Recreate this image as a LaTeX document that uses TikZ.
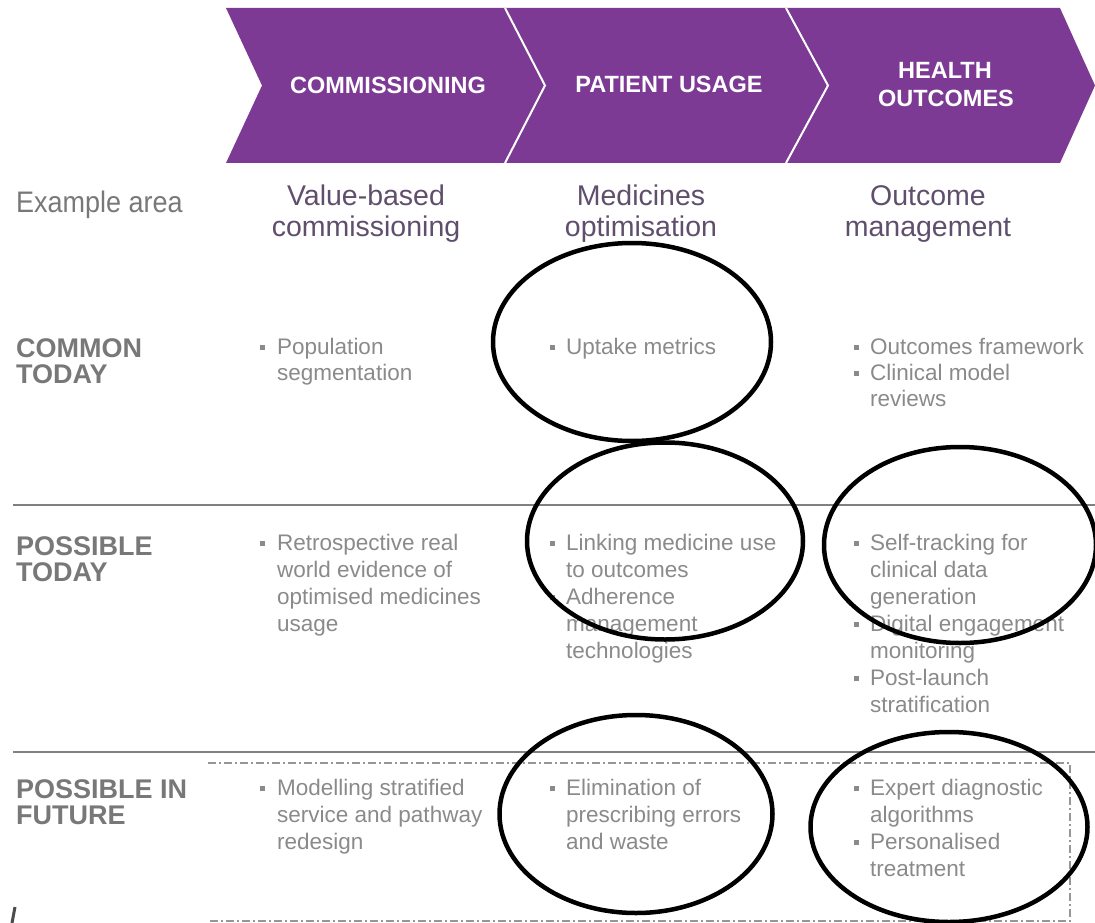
\documentclass[tikz,border=0pt]{standalone}
\usepackage{fontspec}
\usepackage{graphicx}
\setmainfont{Liberation Sans}
\usetikzlibrary{shapes.geometric}
\definecolor{band}{RGB}{124,58,148}
\definecolor{bodygray}{RGB}{138,138,138}
\definecolor{labgray}{RGB}{120,120,120}
\definecolor{headgray}{RGB}{95,78,108}
\definecolor{linegray}{RGB}{128,128,128}
\definecolor{dashgray}{RGB}{150,150,150}
\tikzset{
  body/.style={anchor=base west, inner sep=0pt, font=\fontsize{22.5}{27}\selectfont, text=bodygray},
  dotsq/.style={fill=bodygray, minimum size=5pt, inner sep=0pt},
  lab/.style={anchor=base west, inner sep=0pt, font=\fontsize{27}{27}\selectfont\bfseries, text=labgray},
  colhead/.style={anchor=base, inner sep=0pt, font=\fontsize{28.5}{31}\selectfont, text=headgray},
  chev/.style={anchor=base, inner sep=0pt, font=\fontsize{23.5}{28}\selectfont\bfseries, text=white},
  ring/.style={ellipse, draw=black, line width=4.5pt, inner sep=0pt},
  rowrule/.style={draw=linegray, line width=2pt},
  seprule/.style={draw=white, line width=2pt},
  boxdash/.style={draw=dashgray, line width=1.2pt, dash pattern=on 8pt off 3pt on 2pt off 3pt},
}
\newcommand{\bt}[4]{\node[body] (#1) at (#2,#3) {#4};}
\newcommand{\bd}[3]{\node[dotsq] (#1) at (#2,#3-6.5) {};}
\begin{document}
\begin{tikzpicture}[x=1pt,y=-1pt]
\useasboundingbox (0,0) rectangle (1095,923);
% chevron band
\fill[band] (226,8) -- (1060,8) -- (1095,85.5) -- (1060,163) -- (226,163) -- (262,85.5) -- cycle;
\coordinate (s1a) at (505,8); \coordinate (s1b) at (545,85.5); \coordinate (s1c) at (505,163);
\coordinate (s2a) at (786,8); \coordinate (s2b) at (828,85.5); \coordinate (s2c) at (786,163);
\draw[seprule] (s1a) -- (s1b) -- (s1c);
\draw[seprule] (s2a) -- (s2b) -- (s2c);
\node[chev] (h1) at (388,94) {COMMISSIONING};
\node[chev] (h2) at (669,93) {PATIENT USAGE};
\node[chev] (h3a) at (945,79) {HEALTH};
\node[chev] (h3b) at (946,107) {OUTCOMES};
% example area row
\node[body, font=\fontsize{27}{31}\selectfont, text=labgray] (ex) at (16,212) {\scalebox{1}[1.1]{Example area}};
\node[colhead] (c1a) at (366,205) {Value-based};
\node[colhead] (c1b) at (366,236) {commissioning};
\node[colhead] (c2a) at (641,205) {Medicines};
\node[colhead] (c2b) at (641,236) {optimisation};
\node[colhead] (c3a) at (928,205) {Outcome};
\node[colhead] (c3b) at (928,236) {management};
% row labels
\node[lab] (l1a) at (16,357) {COMMON};
\node[lab] (l1b) at (16,383) {TODAY};
\node[lab] (l2a) at (16,555) {POSSIBLE};
\node[lab] (l2b) at (16,581) {TODAY};
\node[lab] (l3a) at (16,798) {POSSIBLE IN};
\node[lab] (l3b) at (16,824) {FUTURE};
% rules
\coordinate (r1a) at (13,505); \coordinate (r1b) at (1095,505);
\coordinate (r2a) at (13,752); \coordinate (r2b) at (1095,752);
\draw[rowrule] (r1a) -- (r1b);
\draw[rowrule] (r2a) -- (r2b);
% dashed frame (top, right, bottom)
\coordinate (da) at (208,763); \coordinate (db) at (1070,763);
\coordinate (dc) at (1070,921); \coordinate (dd) at (208,921);
\draw[boxdash] (da) -- (db) -- (dc) -- (dd);
% column 1
\bd{d11}{262}{354}\bt{t11a}{277}{354}{Population}\bt{t11b}{277}{380}{segmentation}
\bd{d12}{262}{550}\bt{t12a}{277}{550}{Retrospective real}\bt{t12b}{277}{577}{world evidence of}
\bt{t12c}{277}{604}{optimised medicines}\bt{t12d}{277}{631}{usage}
\bd{d13}{262}{795}\bt{t13a}{277}{795}{Modelling stratified}\bt{t13b}{277}{822}{service and pathway}
\bt{t13c}{277}{849}{redesign}
% column 2
\bd{d21}{552}{354}\bt{t21a}{566}{354}{Uptake metrics}
\bd{d22}{552}{550}\bt{t22a}{566}{550}{Linking medicine use}\bt{t22b}{566}{577}{to outcomes}
\bd{d22x}{552}{604}\bt{t22c}{566}{604}{Adherence}\bt{t22d}{566}{631}{management}
\bt{t22e}{566}{658}{technologies}
\bd{d23}{552}{795}\bt{t23a}{566}{795}{Elimination of}\bt{t23b}{566}{822}{prescribing errors}
\bt{t23c}{566}{849}{and waste}
% column 3
\bd{d31}{856}{354}\bt{t31a}{870}{354}{Outcomes framework}
\bd{d31x}{856}{380}\bt{t31b}{870}{380}{Clinical model}\bt{t31c}{870}{406}{reviews}
\bd{d32}{856}{550}\bt{t32a}{870}{550}{Self-tracking for}\bt{t32b}{870}{577}{clinical data}
\bt{t32c}{870}{604}{generation}
\bd{d32x}{856}{631}\bt{t32d}{870}{631}{Digital engagement}\bt{t32e}{870}{658}{monitoring}
\bd{d32y}{856}{685}\bt{t32f}{870}{685}{Post-launch}\bt{t32g}{870}{712}{stratification}
\bd{d33}{856}{795}\bt{t33a}{870}{795}{Expert diagnostic}\bt{t33b}{870}{822}{algorithms}
\bd{d33x}{856}{849}\bt{t33c}{870}{849}{Personalised}\bt{t33d}{870}{876}{treatment}
% ellipses
\node[ring, minimum width=278pt, minimum height=198pt] (e1) at (632,342) {};
\node[ring, minimum width=276pt, minimum height=197pt] (e2) at (665,541) {};
\node[ring, minimum width=272pt, minimum height=196pt] (e3) at (960,545) {};
\node[ring, minimum width=273pt, minimum height=198pt] (e4) at (636,814) {};
\node[ring, minimum width=277pt, minimum height=190pt] (e5) at (949,827) {};
% small mark bottom left
\coordinate (m1) at (15,907); \coordinate (m2) at (12,923);
\draw[draw=black!70, line width=3pt] (m1) -- (m2);
\end{tikzpicture}
\end{document}
